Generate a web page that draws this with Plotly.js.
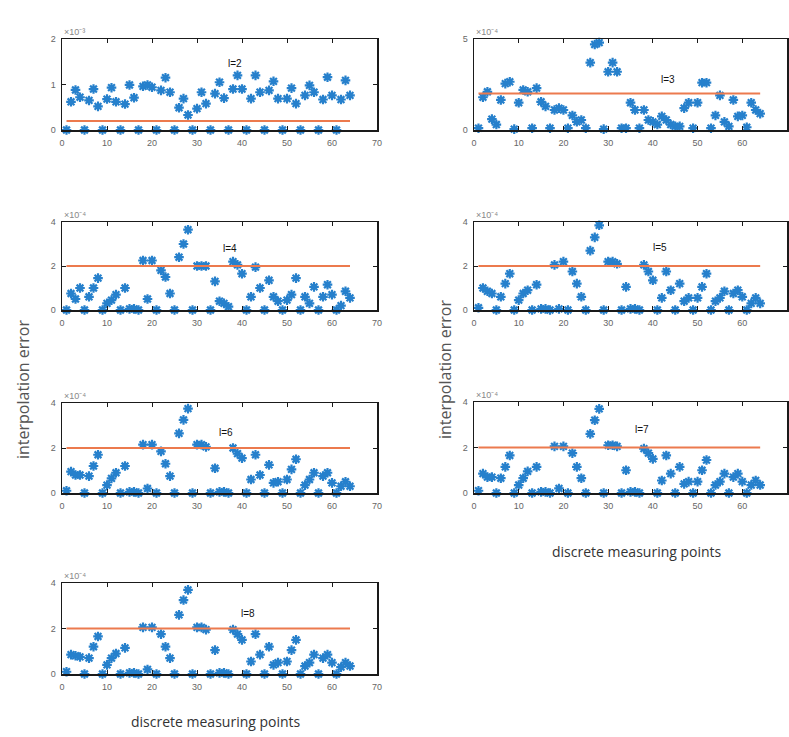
<!DOCTYPE html>
<html><head><meta charset="utf-8">
<script src="https://cdn.plot.ly/plotly-3.0.1.min.js"></script>
<style>html,body{margin:0;padding:0;background:#fff}#chart{width:789px;height:737px}</style>
</head><body><div id="chart"></div>
<script>
// measuring point count (x = 1..64)
const pointCount = 64;
const xTickVals = [0,10,20,30,40,50,60,70];

// l = 2  (values in units of 1e-3)
const err_l2 = [0,0.62,0.88,0.72,0,0.65,0.9,0.52,0,0.68,0.93,0.62,0,0.57,0.99,0.71,0,0.96,0.99,0.94,0,0.87,1.15,0.83,0,0.49,0.69,0.33,0,0.47,0.83,0.58,0,0.8,1.05,0.7,0,0.9,1.2,0.9,0,0.69,1.2,0.83,0,0.87,1.07,0.69,0,0.69,0.92,0.58,0,0.76,0.98,0.83,0,0.67,1.16,0.76,0,0.67,1.09,0.76];
// l = 3  (values in units of 1e-4)
const err_l3 = [0.1,1.8,2.1,0.6,0.3,1.65,2.55,2.65,0.05,1.5,2.2,2.1,0.1,2.3,1.55,1.3,0.1,1.1,1.2,1.1,0.1,0.8,0.45,0.55,0.1,3.7,4.7,4.8,0.05,3.2,3.7,3.2,0.1,0.1,1.5,1.1,0.1,1.1,0.55,0.45,0.3,0.75,0.55,0.3,0.2,0.2,1.2,1.5,0.1,1.5,2.6,2.6,0.1,0.8,1.9,0.45,0.2,1.65,0.75,0.8,0.15,1.5,1.1,0.9];
// l = 4
const err_l4 = [0,0.75,0.5,1.0,0,0.6,1.0,1.45,0,0.3,0.45,0.7,0,1.0,0.05,0.05,0,2.25,0.5,2.25,0,1.8,1.5,0.75,0,2.4,3.0,3.65,0,2.0,2.0,2.0,0,1.3,0.4,0.3,0.15,2.2,2.05,1.65,0,0.6,1.95,1.0,0,1.35,0.6,0.4,0,0.45,0.7,1.45,0,0.6,0.3,1.05,0,0.6,1.15,0.7,0,0.2,0.85,0.55];
// l = 5
const err_l5 = [0.1,1.0,0.85,0.75,0,0.6,1.2,1.65,0,0.45,0.75,0.9,0,1.15,0.05,0.05,0,2.05,0.05,2.2,0,1.75,1.2,0.6,0,2.7,3.3,3.85,0,2.2,2.2,2.1,0,1.05,0.05,0.05,0,2.05,1.75,1.35,0,0.55,1.75,0.9,0,1.2,0.4,0.55,0,0.55,1.05,1.65,0,0.4,0.55,0.85,0,0.75,0.9,0.6,0,0.3,0.55,0.3];
// l = 6
const err_l6 = [0.1,0.95,0.8,0.8,0,0.75,1.2,1.7,0,0.35,0.65,0.9,0,1.2,0.05,0.05,0,2.15,0.2,2.15,0,1.85,1.3,0.75,0,2.65,3.25,3.75,0,2.15,2.15,2.05,0,1.1,0.05,0.05,0,2.0,1.75,1.55,0,0.6,1.7,0.8,0,1.25,0.45,0.5,0,0.6,1.05,1.5,0,0.35,0.6,0.9,0,0.75,0.9,0.45,0,0.3,0.5,0.3];
// l = 7
const err_l7 = [0.1,0.85,0.7,0.7,0,0.65,1.15,1.65,0,0.35,0.65,0.95,0,1.15,0.05,0.05,0,2.05,0.2,2.05,0,1.75,1.15,0.65,0,2.6,3.2,3.7,0,2.1,2.1,2.05,0,1.0,0.05,0.05,0,1.95,1.75,1.5,0,0.55,1.65,0.85,0,1.15,0.4,0.5,0,0.5,1.0,1.45,0,0.35,0.5,0.85,0,0.7,0.85,0.5,0,0.35,0.55,0.35];
// l = 8
const err_l8 = [0.1,0.85,0.8,0.75,0,0.7,1.2,1.65,0,0.4,0.7,0.9,0,1.15,0.05,0.05,0,2.05,0.2,2.05,0,1.75,1.2,0.7,0,2.6,3.25,3.7,0,2.05,2.05,1.95,0,1.05,0.05,0.05,0,1.95,1.75,1.5,0,0.55,1.75,0.85,0,1.2,0.4,0.5,0,0.55,1.05,1.5,0,0.35,0.5,0.85,0,0.7,0.85,0.5,0,0.3,0.5,0.35];

const labels = ['l=2','l=3','l=4','l=5','l=6','l=7','l=8'];
const thresholds = [0.2,2,2,2,2,2,2];
const exponentTexts = ['×10⁻³','×10⁻⁴','×10⁻⁴','×10⁻⁴','×10⁻⁴','×10⁻⁴','×10⁻⁴'];
const yMax = [2,5,4,4,4,4,4];
const yTickSets = [[0,1,2],[0,5],[0,2,4],[0,2,4],[0,2,4],[0,2,4],[0,2,4]];
const labelPos = [[38.4,1.47],[43.4,2.75],[37.3,2.8],[41.6,2.85],[36.4,2.7],[37.6,2.77],[41.3,2.64]];
const series = [err_l2,err_l3,err_l4,err_l5,err_l6,err_l7,err_l8];
const yTitle = 'interpolation error';
const xTitle = 'discrete measuring points';

const W = 789, H = 737;
// panel boxes in pixels [left, right, top, bottom]
const boxes = [
  [62,377,39,130],[474,787,39,130],
  [62,377,222,310],[474,787,222,310],
  [62,377,403,493],[474,787,402,493],
  [62,377,583,674]
];

const xs = Array.from({length: pointCount}, (_, i) => i + 1);
const traces = [];
const layout = {
  width: W, height: H,
  margin: {l:0, r:0, t:0, b:0},
  paper_bgcolor: '#fff', plot_bgcolor: '#fff',
  showlegend: false,
  font: {family: 'Liberation Sans, Arial, sans-serif', size: 9, color: '#555'},
  annotations: []
};

series.forEach((vals, k) => {
  const n = k + 1;
  const xa = 'x' + (n === 1 ? '' : n), ya = 'y' + (n === 1 ? '' : n);
  const b = boxes[k];
  traces.push({
    x: xs, y: vals, xaxis: xa, yaxis: ya, type: 'scatter', mode: 'markers',
    marker: {symbol: 'asterisk-open', size: 8, color: '#2680cc', line: {color: '#2680cc', width: 2.2}},
    hoverinfo: 'skip', cliponaxis: false
  });
  traces.push({
    x: [xs[0], xs[xs.length - 1]], y: [thresholds[k], thresholds[k]], xaxis: xa, yaxis: ya,
    type: 'scatter', mode: 'lines', line: {color: '#ec7a4e', width: 2}, hoverinfo: 'skip'
  });
  const axCommon = {
    showline: true, linecolor: '#1a1a1a', linewidth: 1.5, mirror: 'allticks',
    ticks: 'inside', ticklen: 4, tickcolor: '#1a1a1a', showgrid: false, zeroline: false,
    tickfont: {size: 9, color: '#666', family: 'Liberation Sans, Arial, sans-serif'}
  };
  layout['xaxis' + (n === 1 ? '' : n)] = Object.assign({}, axCommon, {
    domain: [b[0] / W, b[1] / W], anchor: ya, range: [0, 70],
    tickvals: xTickVals, ticklabelstandoff: 4
  });
  layout['yaxis' + (n === 1 ? '' : n)] = Object.assign({}, axCommon, {
    domain: [1 - b[3] / H, 1 - b[2] / H], anchor: xa, range: [0, yMax[k]],
    tickvals: yTickSets[k], ticklabelstandoff: 3
  });
  layout.annotations.push({
    xref: xa, yref: ya, x: labelPos[k][0], y: labelPos[k][1], text: labels[k],
    xanchor: 'center', yanchor: 'middle',
    showarrow: false, font: {size: 10, color: '#111'}
  });
  layout.annotations.push({
    xref: 'paper', yref: 'paper', x: b[0] / W, y: 1 - b[2] / H, xanchor: 'left', yanchor: 'bottom',
    text: exponentTexts[k], showarrow: false, font: {size: 9, color: '#888'}
  });
});

// axis titles
const titleFont = {size: 16, color: '#555', family: 'Open Sans, sans-serif'};
layout.annotations.push({xref:'paper', yref:'paper', x: 23/W, y: 1 - 390/H, text: yTitle,
  xanchor: 'center', yanchor: 'middle', textangle: -90, showarrow: false, font: titleFont});
layout.annotations.push({xref:'paper', yref:'paper', x: 445/W, y: 1 - 370/H, text: yTitle,
  xanchor: 'center', yanchor: 'middle', textangle: -90, showarrow: false, font: titleFont});
layout.annotations.push({xref:'paper', yref:'paper', x: 216/W, y: 1 - 721/H, text: xTitle,
  xanchor: 'center', yanchor: 'middle', showarrow: false, font: {size: 14, color: '#333', family: 'Open Sans, sans-serif'}});
layout.annotations.push({xref:'paper', yref:'paper', x: 637/W, y: 1 - 551/H, text: xTitle,
  xanchor: 'center', yanchor: 'middle', showarrow: false, font: {size: 14, color: '#333', family: 'Open Sans, sans-serif'}});

Plotly.newPlot('chart', traces, layout, {staticPlot: true});
</script></body></html>
